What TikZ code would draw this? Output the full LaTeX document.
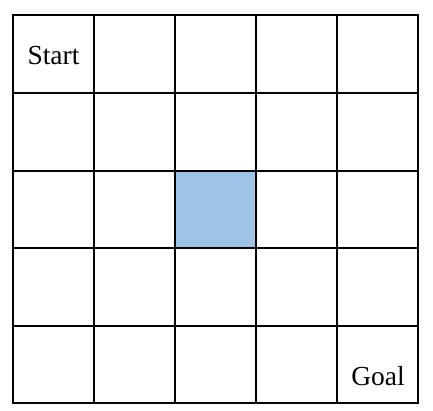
\documentclass[tikz,border=0pt]{standalone}
\usepackage{fontspec}
\setmainfont{Liberation Serif}
\begin{document}
\begin{tikzpicture}[x=1pt,y=-1pt,
  gridline/.style={line width=2.3pt,black,line cap=rect},
  lbl/.style={font=\fontsize{27.5}{31}\selectfont,anchor=base}]
\useasboundingbox (0,0) rectangle (433,411);
\fill[fill={rgb,255:red,157;green,195;blue,230}] (175,171) rectangle (256,248);
\foreach \x in {13,94,175,256,337,418} \draw[gridline] (\x,15) -- (\x,403);
\foreach \y in {15,93,171,248,326,403} \draw[gridline] (13,\y) -- (418,\y);
\node[lbl] (start) at (53.5,65) {Start};
\node[lbl] (goal) at (378,385) {Goal};
\end{tikzpicture}
\end{document}
